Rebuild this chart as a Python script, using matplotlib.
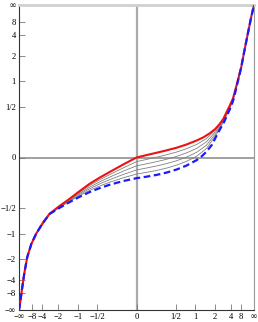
import numpy as np
import matplotlib
matplotlib.use("Agg")
import matplotlib.pyplot as plt

plt.rcParams['font.family'] = ['Liberation Serif', 'DejaVu Serif']

INF = np.inf
BIG = 1e9  # stands for infinity on the axis limits

# tick values and labels (both axes)
tick_values = [-BIG, -8, -4, -2, -1, -0.5, 0, 0.5, 1, 2, 4, 8, BIG]
tick_labels = ["\u2212\u221e", "\u22128", "\u22124", "\u22122", "\u22121", "\u22121/2",
               "0", "1/2", "1", "2", "4", "8", "\u221e"]

# red (upper) curve
red_x = [-INF, -82, -40.7, -21.2, -13.3, -8.52, -5.85, -4.0, -2.85, -1.90, -1.326,
         -0.942, -0.667, -0.460, -0.299, -0.130, 0.0, 0.093, 0.205, 0.342, 0.515,
         0.739, 1.045, 1.326, 1.66, 2.03, 2.44, 2.85, 3.27, 3.785, 4.587, 5.711,
         8.17, 11.3, 17.9, 40.7, INF]
red_y = [-INF, -15.7, -6.81, -3.17, -1.89, -1.31, -1.0, -0.761, -0.585, -0.466, -0.372,
         -0.284, -0.209, -0.153, -0.106, -0.049, 0.0, 0.016, 0.032, 0.049, 0.068,
         0.093, 0.125, 0.153, 0.189, 0.230, 0.284, 0.342, 0.422, 0.506, 0.632, 0.894,
         1.44, 2.36, 4.29, 11.5, INF]

# blue dashed (lower) curve
blue_x = [-INF, -82, -40.7, -21.2, -13.3, -8.52, -5.85, -4.0, -2.85, -1.90, -1.326,
          -0.942, -0.667, -0.460, -0.299, -0.130, 0.0, 0.093, 0.205, 0.342, 0.515,
          0.739, 1.045, 1.247, 1.475, 1.78, 2.135, 2.48, 2.89, 3.46, 4.24, 4.88, 5.71,
          8.17, 11.3, 17.9, 40.7, INF]
blue_y = [-INF, -15.7, -6.81, -3.17, -1.89, -1.31, -1.0, -0.761, -0.590, -0.493, -0.414,
          -0.348, -0.294, -0.252, -0.218, -0.183, -0.157, -0.144, -0.129, -0.110, -0.086,
          -0.056, -0.018, 0.008, 0.040, 0.089, 0.166, 0.232, 0.297, 0.399, 0.520, 0.645,
          0.859, 1.44, 2.36, 4.29, 11.5, INF]

# thin gray intermediate curves
gray_x = [-5.85, -2.85, -1.90, -1.326, -0.942, -0.667, -0.460, -0.299, -0.130, 0.0,
          0.093, 0.205, 0.342, 0.515, 0.739, 1.045, 1.475, 2.135, 2.891, 3.785, 4.587,
          5.711, 8.17]
gray_1 = [-1.0, -0.586, -0.471, -0.380, -0.296, -0.225, -0.172, -0.127, -0.074, -0.028,
          -0.013, 0.002, 0.018, 0.037, 0.061, 0.093, 0.142, 0.231, 0.342, 0.495, 0.623,
          0.887, 1.44]
gray_2 = [-1.0, -0.588, -0.477, -0.388, -0.309, -0.242, -0.191, -0.148, -0.099, -0.058,
          -0.043, -0.028, -0.012, 0.007, 0.031, 0.063, 0.115, 0.214, 0.330, 0.484, 0.614,
          0.880, 1.44]
gray_3 = [-1.0, -0.589, -0.482, -0.397, -0.321, -0.259, -0.210, -0.171, -0.126, -0.089,
          -0.074, -0.059, -0.042, -0.022, 0.002, 0.035, 0.088, 0.197, 0.319, 0.473, 0.606,
          0.873, 1.44]
gray_4 = [-1.0, -0.591, -0.487, -0.406, -0.334, -0.276, -0.231, -0.194, -0.154, -0.122,
          -0.108, -0.093, -0.075, -0.053, -0.026, 0.008, 0.063, 0.181, 0.308, 0.462, 0.598,
          0.866, 1.44]


def fwd(v):
    v = np.asarray(v, dtype=float)
    with np.errstate(invalid='ignore', divide='ignore'):
        return np.where(np.isinf(v), np.sign(v), v / (1.0 + np.abs(v)))


def inv(t):
    t = np.asarray(t, dtype=float)
    with np.errstate(invalid='ignore', divide='ignore'):
        return t / (1.0 - np.abs(t))


fig = plt.figure(figsize=(2.58, 3.22), dpi=100)
ax = fig.add_axes([19 / 258, 12 / 322, 235 / 258, 305 / 322])
ax.set_xscale('function', functions=(fwd, inv))
ax.set_yscale('function', functions=(fwd, inv))
ax.set_xlim(-BIG, BIG)
ax.set_ylim(-BIG, BIG)

ax.axhline(0, color='#999999', lw=1.3, zorder=1)
ax.axvline(0, color='#aaaaaa', lw=1.6, zorder=1)

for g in (gray_1, gray_2, gray_3, gray_4):
    ax.plot(gray_x, g, color='#808080', lw=0.6, zorder=2)
ax.plot(red_x, red_y, color='#ee1111', lw=1.5, zorder=3)
ax.plot(blue_x, blue_y, color='#1a1aff', lw=1.6, ls=(0, (3, 1.6)), zorder=4)

ax.set_xticks(tick_values)
ax.set_xticklabels(tick_labels)
ax.set_yticks(tick_values)
ax.set_yticklabels(tick_labels)
ax.minorticks_off()
ax.tick_params(axis='both', direction='in', length=4, width=0.6, color='#777777',
               labelsize=6.2)
ax.tick_params(axis='y', pad=2.2)
ax.tick_params(axis='x', pad=2)

for s in ('left', 'bottom'):
    ax.spines[s].set_color('#333333')
    ax.spines[s].set_linewidth(0.8)
ax.spines['top'].set_color('#d0d0d0')
ax.spines['top'].set_linewidth(2.0)
ax.spines['right'].set_color('#999999')
ax.spines['right'].set_linewidth(0.8)

fig.savefig('out.png', dpi=100)
